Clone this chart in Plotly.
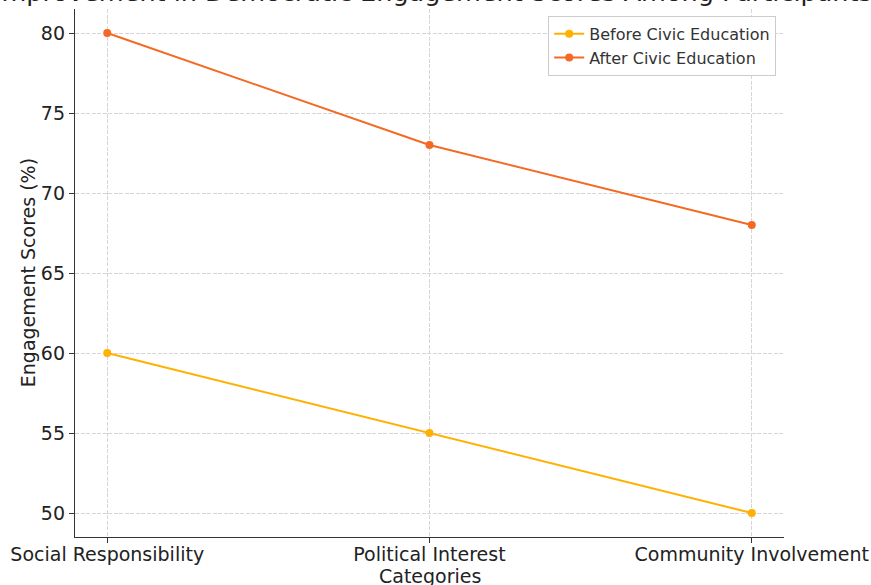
import plotly.graph_objects as go

categories = ["Social Responsibility", "Political Interest", "Community Involvement"]
before_scores = [60, 55, 50]
after_scores = [80, 73, 68]

series_names = ["Before Civic Education", "After Civic Education"]
series_colors = ["#FFB000", "#F46A25"]

FONT = "DejaVu Sans"
TEXT_COLOR = "#222222"

fig = go.Figure()
for name, vals, color in zip(series_names, [before_scores, after_scores], series_colors):
    fig.add_trace(go.Scatter(
        x=list(range(len(categories))), y=vals, name=name,
        mode="lines+markers",
        line=dict(color=color, width=2),
        marker=dict(color=color, size=8),
    ))

axis_common = dict(
    showline=True, linecolor="#333333", linewidth=1.3,
    ticks="outside", ticklen=5, tickcolor="#333333", tickwidth=1.2,
    showgrid=True, gridcolor="#d6d6d6", griddash="4px,1.5px", gridwidth=0.8,
    zeroline=False, mirror=False, automargin=False,
    tickfont=dict(family=FONT, size=19, color=TEXT_COLOR),
)

fig.update_xaxes(
    **axis_common,
    range=[-0.1, 2.1],
    tickmode="array", tickvals=list(range(len(categories))), ticktext=categories,
    ticklabelstandoff=-5,
)
fig.update_yaxes(
    **axis_common,
    range=[48.5, 81.5],
    tickmode="array", tickvals=[50, 55, 60, 65, 70, 75, 80],
)

# Chart title and axis titles
fig.add_annotation(
    text="Improvement in Democratic Engagement Scores Among Participants",
    xref="paper", yref="paper", x=0.505, y=1.0005, xanchor="center", yanchor="bottom",
    showarrow=False, font=dict(family=FONT, size=25.5, color=TEXT_COLOR),
)
fig.add_annotation(
    text="Categories",
    xref="paper", yref="paper", x=0.5, y=-0.074, xanchor="center", yanchor="middle",
    showarrow=False, font=dict(family=FONT, size=19, color=TEXT_COLOR),
)
fig.add_annotation(
    text="Engagement Scores (%)", textangle=-90,
    xref="paper", yref="paper", x=-0.066, y=0.5, xanchor="center", yanchor="middle",
    showarrow=False, font=dict(family=FONT, size=19, color=TEXT_COLOR),
)

fig.update_layout(
    width=871, height=585,
    margin=dict(l=75, r=87, t=9, b=48, autoexpand=False),
    plot_bgcolor="white", paper_bgcolor="white",
    legend=dict(
        x=0.989, y=0.987, xanchor="right", yanchor="top",
        bgcolor="rgba(255,255,255,0.9)", bordercolor="#cccccc", borderwidth=1,
        font=dict(family=FONT, size=16, color="#333333"),
        tracegroupgap=0,
    ),
    showlegend=True,
)

fig.write_html("out.html")
